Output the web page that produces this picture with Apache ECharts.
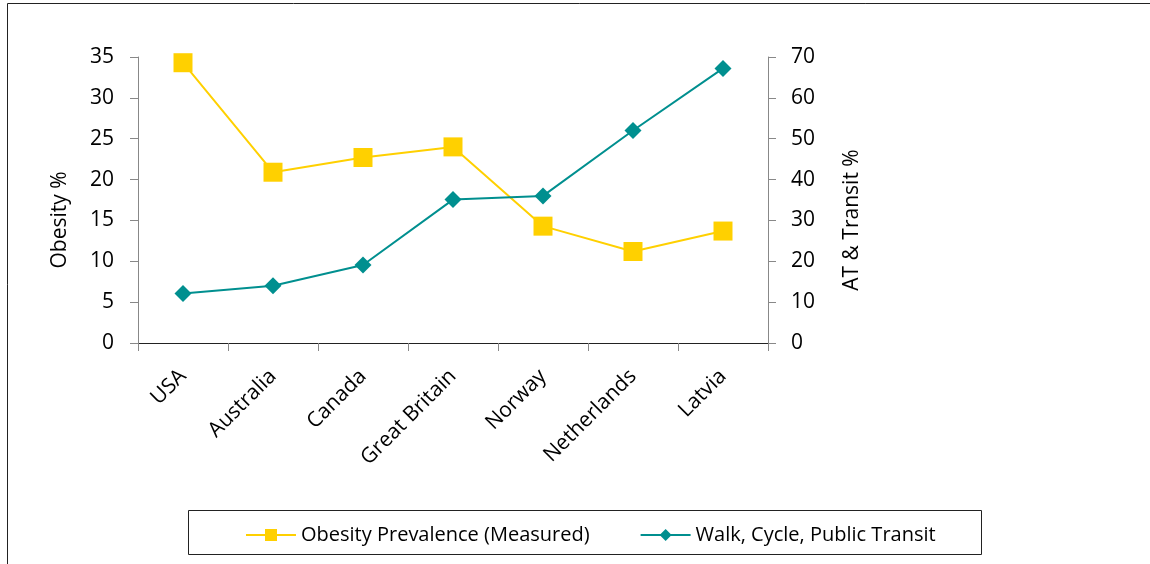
<!DOCTYPE html>
<html>
<head>
<meta charset="utf-8">
<script src="https://cdn.jsdelivr.net/npm/echarts@6/dist/echarts.min.js"></script>
<style>
  html, body { margin: 0; padding: 0; background: #fff; }
  #chart { width: 1150px; height: 564px; }
</style>
</head>
<body>
<div id="chart"></div>
<script>
const countries = ['USA', 'Australia', 'Canada', 'Great Britain', 'Norway', 'Netherlands', 'Latvia'];
const obesity = [34.3, 20.9, 22.7, 24.0, 14.3, 11.2, 13.7];
const transit = [12.1, 14.0, 19.1, 35.1, 36.0, 52.0, 67.2];
const leftTicks = { min: 0, max: 35, interval: 5 };
const rightTicks = { min: 0, max: 70, interval: 10 };

const font = '"Open Sans", "Noto Sans", sans-serif';
const yellow = '#ffd000';
const teal = '#008f8f';

const chart = echarts.init(document.getElementById('chart'));

const option = {
  animation: false,
  grid: { left: 138, right: 382, top: 57, bottom: 221 },
  graphic: [
    {
      type: 'rect',
      shape: { x: 7.5, y: 3.5, width: 1200, height: 700 },
      style: { fill: 'none', stroke: '#222', lineWidth: 1 }
    },
    {
      type: 'rect',
      shape: { x: 188.5, y: 510.5, width: 793, height: 44 },
      style: { fill: '#fff', stroke: '#222', lineWidth: 1 },
      z: 0
    }
  ],
  legend: {
    left: 240,
    top: 520,
    itemWidth: 50,
    itemHeight: 15,
    itemGap: 50,
    z: 10,
    textStyle: { fontFamily: font, fontSize: 20, color: '#000' },
    data: ['Obesity Prevalence (Measured)', 'Walk, Cycle, Public Transit']
  },
  xAxis: {
    type: 'category',
    data: countries,
    boundaryGap: true,
    axisLine: { lineStyle: { color: '#222', width: 1 } },
    axisTick: { show: true, length: 8, lineStyle: { color: '#888' } },
    axisLabel: {
      rotate: 45,
      margin: 30,
      fontFamily: font,
      fontSize: 21,
      color: '#000'
    }
  },
  yAxis: [
    {
      type: 'value',
      position: 'left',
      min: leftTicks.min,
      max: leftTicks.max,
      interval: leftTicks.interval,
      name: 'Obesity %',
      nameLocation: 'middle',
      nameRotate: 90,
      nameGap: 67,
      nameTextStyle: { fontFamily: font, fontSize: 21, color: '#000', padding: [0, 40, 0, 0] },
      splitLine: { show: false },
      axisLine: { show: true, lineStyle: { color: '#888' } },
      axisTick: { show: true, length: 8, lineStyle: { color: '#888' } },
      axisLabel: { margin: 24, fontFamily: font, fontSize: 21, color: '#000' }
    },
    {
      type: 'value',
      position: 'right',
      min: rightTicks.min,
      max: rightTicks.max,
      interval: rightTicks.interval,
      name: 'AT & Transit %',
      nameLocation: 'middle',
      nameRotate: 90,
      nameGap: 74,
      nameTextStyle: { fontFamily: font, fontSize: 21, color: '#000', padding: [0, 40, 0, 0] },
      splitLine: { show: false },
      axisLine: { show: true, lineStyle: { color: '#888' } },
      axisTick: { show: true, length: 8, lineStyle: { color: '#888' } },
      axisLabel: { margin: 23, fontFamily: font, fontSize: 21, color: '#000' }
    }
  ],
  series: [
    {
      name: 'Obesity Prevalence (Measured)',
      type: 'line',
      yAxisIndex: 0,
      data: obesity,
      symbol: 'rect',
      symbolSize: 19,
      lineStyle: { color: yellow, width: 2 },
      itemStyle: { color: yellow }
    },
    {
      name: 'Walk, Cycle, Public Transit',
      type: 'line',
      yAxisIndex: 1,
      data: transit,
      symbol: 'diamond',
      symbolSize: 17,
      lineStyle: { color: teal, width: 2 },
      itemStyle: { color: teal }
    }
  ]
};

chart.setOption(option);
</script>
</body>
</html>
